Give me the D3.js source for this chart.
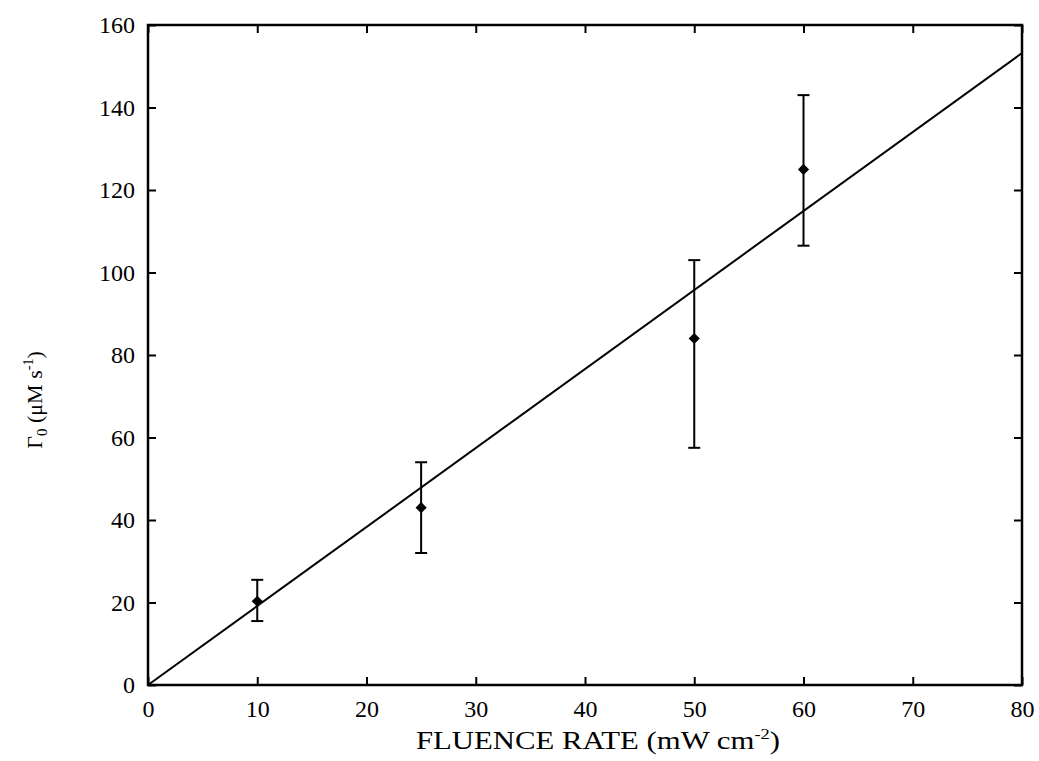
<!DOCTYPE html>
<html>
<head>
<meta charset="utf-8">
<script src="https://cdn.jsdelivr.net/npm/d3@7"></script>
<style>
  body { margin: 0; background: #fff; }
  text { font-family: "Liberation Serif", "Times New Roman", serif; fill: #000; }
</style>
</head>
<body>
<div id="chart"></div>
<script>
// Fluence rate vs initial rate, with a linear fit through the origin.
const fluence = [10, 25, 50, 60];
const gamma0 = [20.3, 43, 84, 125];
const errLow = [15.5, 32, 57.5, 106.5];
const errHigh = [25.5, 54, 103, 143];
const fitLine = [[0, 0], [80, 153.2]];
const xTicks = [0, 10, 20, 30, 40, 50, 60, 70, 80];
const yTicks = [0, 20, 40, 60, 80, 100, 120, 140, 160];

const WIDTH = 1039, HEIGHT = 761;
const MARGIN = { left: 148, right: 17, top: 25, bottom: 76 };
const INNER_W = WIDTH - MARGIN.left - MARGIN.right;
const INNER_H = HEIGHT - MARGIN.top - MARGIN.bottom;

const svg = d3.select("#chart").append("svg")
    .attr("width", WIDTH)
    .attr("height", HEIGHT);

const chart = svg.append("g")
    .attr("transform", `translate(${MARGIN.left}, ${MARGIN.top})`);

const xScale = d3.scaleLinear().domain([0, 80]).range([0, INNER_W]);
const yScale = d3.scaleLinear().domain([0, 160]).range([INNER_H, 0]);

// Inward ticks on all four sides, labels only on bottom and left.
const styleAxis = size => g => {
    g.select(".domain").remove();
    g.selectAll(".tick line").attr("stroke", "#000").attr("stroke-width", 2);
    g.selectAll(".tick text").style("font-size", size);
};

chart.append("g")
    .attr("transform", `translate(0, ${INNER_H})`)
    .call(d3.axisBottom(xScale).tickValues(xTicks).tickSizeInner(-8).tickPadding(15))
    .call(styleAxis("24px"));

chart.append("g")
    .call(d3.axisLeft(yScale).tickValues(yTicks).tickSizeInner(-8).tickPadding(13))
    .call(styleAxis("24px"));

chart.append("g")
    .call(d3.axisTop(xScale).tickValues(xTicks).tickSizeInner(-8).tickFormat(""))
    .call(styleAxis("0px"));

chart.append("g")
    .attr("transform", `translate(${INNER_W}, 0)`)
    .call(d3.axisRight(yScale).tickValues(yTicks).tickSizeInner(-8).tickFormat(""))
    .call(styleAxis("0px"));

chart.append("rect")
    .attr("width", INNER_W)
    .attr("height", INNER_H)
    .attr("fill", "none")
    .attr("stroke", "#000")
    .attr("stroke-width", 2.5);

// Fitted line
chart.append("path")
    .datum(fitLine)
    .attr("fill", "none")
    .attr("stroke", "#000")
    .attr("stroke-width", 2)
    .attr("d", d3.line().x(d => xScale(d[0])).y(d => yScale(d[1])));

const points = fluence.map((f, i) => ({ x: f, y: gamma0[i], lo: errLow[i], hi: errHigh[i] }));

// Error bars with caps
const bars = chart.selectAll(".err").data(points).join("g").attr("class", "err");
bars.append("line")
    .attr("x1", d => xScale(d.x)).attr("x2", d => xScale(d.x))
    .attr("y1", d => yScale(d.lo)).attr("y2", d => yScale(d.hi))
    .attr("stroke", "#000").attr("stroke-width", 2);
["lo", "hi"].forEach(k => {
    bars.append("line")
        .attr("x1", d => xScale(d.x) - 6).attr("x2", d => xScale(d.x) + 6)
        .attr("y1", d => yScale(d[k])).attr("y2", d => yScale(d[k]))
        .attr("stroke", "#000").attr("stroke-width", 2);
});

chart.selectAll(".pt").data(points).join("path")
    .attr("class", "pt")
    .attr("transform", d => `translate(${xScale(d.x)}, ${yScale(d.y)})`)
    .attr("d", d3.symbol().type(d3.symbolDiamond2).size(80))
    .attr("fill", "#000");

// Axis titles
const xLabel = svg.append("text")
    .attr("transform", "translate(598, 749) scale(1.23, 1)")
    .attr("text-anchor", "middle")
    .style("font-size", "25px");
xLabel.append("tspan").text("FLUENCE RATE (mW cm");
xLabel.append("tspan").attr("dy", -10).style("font-size", "15px").text("-2");
xLabel.append("tspan").attr("dy", 10).text(")");

const yLabel = svg.append("text")
    .attr("transform", "translate(42, 400) rotate(-90)")
    .attr("text-anchor", "middle")
    .style("font-size", "22px");
yLabel.append("tspan").text("Γ");
yLabel.append("tspan").attr("dy", 5).style("font-size", "15px").text("0");
yLabel.append("tspan").attr("dy", -5).text(" (μM s");
yLabel.append("tspan").attr("dy", -9).style("font-size", "14px").text("-1");
yLabel.append("tspan").attr("dy", 9).text(")");
</script>
</body>
</html>
